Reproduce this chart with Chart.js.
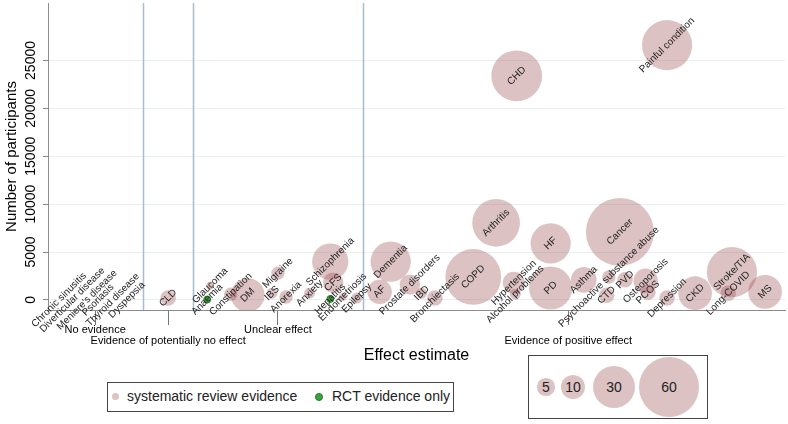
<!DOCTYPE html>
<html>
<head>
<meta charset="utf-8">
<title>Evidence map</title>
<script src="https://cdn.jsdelivr.net/npm/chart.js@4.4.1/dist/chart.umd.min.js"></script>
<style>
  body { margin: 0; background: #fff; font-family: "Liberation Sans", Arial, sans-serif; }
  #wrap { position: relative; width: 788px; height: 424px; }
  .box { position: absolute; border: 1px solid #444; background: #fff; box-sizing: border-box; }
  .dot { position: absolute; top: 10px; width: 7px; height: 7px; border-radius: 50%; }
  .lg-text { position: absolute; top: 5px; font-size: 14px; color: #222; white-space: nowrap; }
  .size-bubble { position: absolute; border-radius: 50%; background: rgba(144, 53, 59, 0.3);
    display: flex; align-items: center; justify-content: center; font-size: 14px; color: #222; }
</style>
</head>
<body>
<div id="wrap">
  <canvas id="evidenceChart"></canvas>
  <div class="box" style="left:107px;top:382px;width:347px;height:30px">
    <span class="dot" style="left:4px;background:rgba(144,53,59,0.3)"></span>
    <span class="lg-text" style="left:19px">systematic review evidence</span>
    <span class="dot" style="left:207px;background:#3aa53a;border:1px solid #23772a;width:6px;height:6px"></span>
    <span class="lg-text" style="left:224px">RCT evidence only</span>
  </div>
  <div class="box" id="size-legend" style="left:528px;top:355px;width:180px;height:64px"></div>
</div>
<script>
// conditions, position along the effect axis (arbitrary 0-100), participants, number of studies
const conditions = ['Chronic sinusitis', 'Diverticular disease', "Meniere's disease", 'Psoriasis', 'Thyroid disease', 'Dyspepsia',
  'CLD', 'Glaucoma', 'Anaemia', 'Constipation', 'DM', 'IBS', 'Migraine', 'Anorexia', 'Anxiety', 'Schizophrenia', 'CFS',
  'Hepatitis', 'Endometriosis', 'Epilepsy', 'AF', 'Dementia', 'Prostate disorders', 'IBD', 'Bronchiectasis', 'COPD',
  'Arthritis', 'Hypertension', 'Alcohol problems', 'CHD', 'HF', 'PD', 'Asthma', 'CTD', 'Psychoactive substance abuse',
  'Cancer', 'PVD', 'Osteoporosis', 'PCOS', 'Painful condition', 'Depression', 'CKD', 'Long-COVID', 'Stroke/TIA', 'MS'];
const effectX = [1.5, 3.3, 5.3, 6.8, 8.8, 10.7,
  16.3, 22.0, 21.6, 24.8, 27.1, 30.4, 31.2, 32.3, 35.5, 38.3, 38.7,
  38.3, 40.0, 41.9, 45.0, 46.5, 49.1, 50.7, 52.5, 57.7,
  60.8, 63.2, 63.4, 63.6, 68.2, 68.2, 72.7, 75.8, 76.1,
  77.6, 78.3, 81.1, 81.4, 84.0, 84.0, 87.8, 92.3, 92.8, 97.3];
const participants = [0, 0, 0, 0, 0, 0,
  200, 1500, 50, 600, 500, 700, 2800, 300, 700, 4000, 1800,
  100, 300, 200, 850, 4000, 1600, 700, 200, 2400,
  8050, 1800, 600, 23400, 5900, 1250, 2100, 500, 2400,
  7100, 2100, 2000, 800, 26600, 200, 700, 700, 2900, 850];
const studies = [0, 0, 0, 0, 0, 0,
  4, 1, 1, 3, 19, 2, 3, 3, 2, 22, 7,
  1, 1, 2, 10, 27, 7, 2, 4, 52,
  38, 8, 2, 43, 27, 31, 11, 4, 3,
  77, 4, 10, 4, 42, 4, 19, 4, 42, 19];
const evidence = ['none', 'none', 'none', 'none', 'none', 'none',
  'SR', 'SR', 'RCT', 'SR', 'SR', 'SR', 'SR', 'SR', 'SR', 'SR', 'SR',
  'RCT', 'SR', 'SR', 'SR', 'SR', 'SR', 'SR', 'SR', 'SR',
  'SR', 'SR', 'SR', 'SR', 'SR', 'SR', 'SR', 'SR', 'SR',
  'SR', 'SR', 'SR', 'SR', 'SR', 'SR', 'SR', 'SR', 'SR', 'SR'];

const groupNames = ['No evidence', 'Evidence of potentially no effect', 'Unclear effect', 'Evidence of positive effect'];
const groupTickX = [6.4, 16.3, 31.2, 70.6];
const groupBounds = [12.9, 19.7, 42.7];
const yTickValues = [0, 5000, 10000, 15000, 20000, 25000];
const sizeKey = [5, 10, 30, 60];

const pink = 'rgba(144, 53, 59, 0.3)';
const bubbleR = n => 3.87 * Math.sqrt(n);

function pointsFor(kind) {
  const out = [];
  conditions.forEach((name, i) => {
    if (evidence[i] !== kind) return;
    out.push({ x: effectX[i], y: participants[i], r: kind === 'RCT' ? 3.5 : bubbleR(studies[i]), label: name });
  });
  return out;
}

const groupLines = {
  id: 'groupLines',
  beforeDatasetsDraw(chart) {
    const { ctx, chartArea, scales } = chart;
    ctx.save();
    ctx.strokeStyle = '#a9bdd1';
    ctx.lineWidth = 1.5;
    groupBounds.forEach(v => {
      const px = Math.round(scales.x.getPixelForValue(v)) + 0.5;
      ctx.beginPath();
      ctx.moveTo(px, chartArea.top);
      ctx.lineTo(px, chartArea.bottom);
      ctx.stroke();
    });
    ctx.restore();
  }
};

const bubbleLabels = {
  id: 'bubbleLabels',
  afterDatasetsDraw(chart) {
    const { ctx } = chart;
    ctx.save();
    ctx.font = '10px "Liberation Sans", Arial, sans-serif';
    ctx.fillStyle = '#222';
    ctx.textAlign = 'center';
    ctx.textBaseline = 'middle';
    chart.data.datasets.forEach((ds, di) => {
      chart.getDatasetMeta(di).data.forEach((el, i) => {
        ctx.save();
        ctx.translate(el.x, el.y);
        ctx.rotate(-Math.PI / 4);
        ctx.fillText(ds.data[i].label, 0, 0);
        ctx.restore();
      });
    });
    ctx.restore();
  }
};

Chart.defaults.font.family = '"Liberation Sans", Arial, sans-serif';
Chart.defaults.color = '#000';

new Chart(document.getElementById('evidenceChart'), {
  type: 'bubble',
  data: {
    datasets: [
      { label: 'RCT evidence only', data: pointsFor('RCT'), backgroundColor: '#3aa53a', borderColor: '#23772a', borderWidth: 0.8 },
      { label: 'systematic review evidence', data: pointsFor('SR'), backgroundColor: pink, borderWidth: 0 },
      { label: 'no evidence', data: pointsFor('none'), backgroundColor: 'rgba(0,0,0,0)', borderWidth: 0 }
    ]
  },
  options: {
    responsive: true,
    maintainAspectRatio: false,
    devicePixelRatio: 1,
    animation: false,
    layout: { autoPadding: false, padding: { top: 3, right: 3, left: 0, bottom: 0 } },
    plugins: { legend: { display: false }, tooltip: { enabled: false } },
    scales: {
      x: {
        type: 'linear',
        min: 0,
        max: 100,
        afterBuildTicks: s => { s.ticks = groupTickX.map(v => ({ value: v })); },
        afterFit: s => { s.height = 114; },
        ticks: {
          autoSkip: false, maxRotation: 0, minRotation: 0, padding: 0,
          font: { size: 11, lineHeight: 0.95 },
          callback: (v, i) => (i % 2 ? ['', groupNames[i]] : groupNames[i])
        },
        grid: { drawOnChartArea: false, tickLength: 15, tickColor: '#777' },
        border: { color: '#8c8c8c' },
        title: { display: true, text: 'Effect estimate', font: { size: 16 }, padding: { top: 0, bottom: 59 } }
      },
      y: {
        type: 'linear',
        min: -1050,
        max: 31000,
        afterBuildTicks: s => { s.ticks = yTickValues.map(v => ({ value: v })); },
        afterFit: s => { s.width = 48; },
        ticks: {
          minRotation: 90, maxRotation: 90, crossAlign: 'center', padding: -8, font: { size: 14 },
          callback: v => String(v)
        },
        grid: { color: '#e8eff2', tickLength: 5, tickColor: '#888' },
        border: { color: '#8c8c8c' },
        title: { display: true, text: 'Number of participants', font: { size: 15 }, padding: { top: 3, bottom: 0 } }
      }
    }
  },
  plugins: [groupLines, bubbleLabels]
});

// bubble size key
const keyBox = document.getElementById('size-legend');
const keyCentres = [18, 45, 86, 141];
sizeKey.forEach((n, i) => {
  const r = bubbleR(n);
  const b = document.createElement('div');
  b.className = 'size-bubble';
  b.style.width = b.style.height = (2 * r) + 'px';
  b.style.left = (keyCentres[i] - r - 1) + 'px';
  b.style.top = (32 - r - 1) + 'px';
  b.textContent = n;
  keyBox.appendChild(b);
});
</script>
</body>
</html>
